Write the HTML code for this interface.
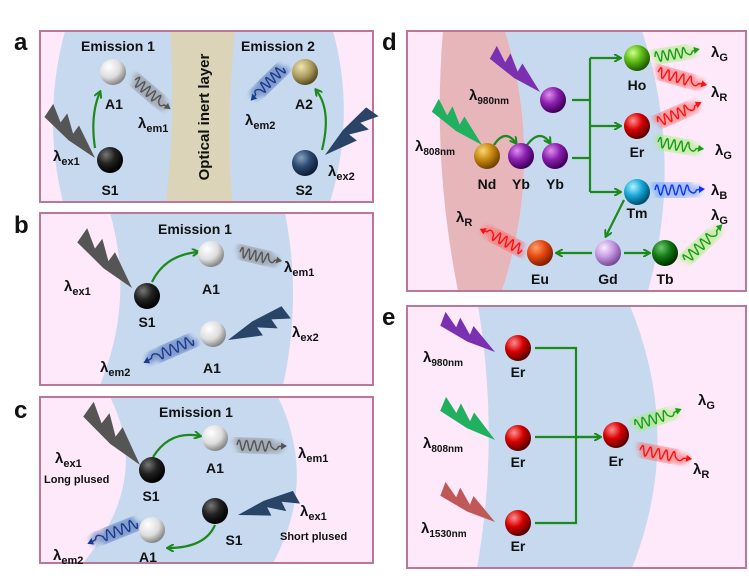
<!DOCTYPE html>
<html><head><meta charset="utf-8"><style>
html,body{margin:0;padding:0;background:#fff;}
svg{display:block;font-family:"Liberation Sans",Arial,sans-serif;font-weight:bold;}
</style></head><body>
<svg id="s" width="749" height="579" viewBox="0 0 749 579" xmlns="http://www.w3.org/2000/svg">
<defs>
<filter id="bl" x="-30%" y="-30%" width="160%" height="160%"><feGaussianBlur stdDeviation="2.5"/></filter>
<marker id="ga" markerWidth="8" markerHeight="8" refX="6" refY="4" orient="auto" markerUnits="userSpaceOnUse"><path d="M0,0 L7,4 L0,8" fill="none" stroke="#1b8a1b" stroke-width="2"/></marker>
<radialGradient id="gW" cx="35%" cy="30%" r="70%"><stop offset="0" stop-color="#fff"/><stop offset=".6" stop-color="#ddd"/><stop offset="1" stop-color="#888"/></radialGradient>
<radialGradient id="gK" cx="35%" cy="30%" r="70%"><stop offset="0" stop-color="#777"/><stop offset=".5" stop-color="#222"/><stop offset="1" stop-color="#000"/></radialGradient>
<radialGradient id="gA" cx="35%" cy="30%" r="70%"><stop offset="0" stop-color="#efe4b0"/><stop offset=".6" stop-color="#a8985a"/><stop offset="1" stop-color="#5a4e20"/></radialGradient>
<radialGradient id="gB" cx="35%" cy="30%" r="70%"><stop offset="0" stop-color="#8aa0c0"/><stop offset=".5" stop-color="#2d4a70"/><stop offset="1" stop-color="#0e1e38"/></radialGradient>
<radialGradient id="gP" cx="35%" cy="30%" r="70%"><stop offset="0" stop-color="#e090f0"/><stop offset=".5" stop-color="#8a20b0"/><stop offset="1" stop-color="#40005a"/></radialGradient>
<radialGradient id="gN" cx="35%" cy="30%" r="70%"><stop offset="0" stop-color="#f8d878"/><stop offset=".5" stop-color="#c88a10"/><stop offset="1" stop-color="#704400"/></radialGradient>
<radialGradient id="gH" cx="35%" cy="30%" r="70%"><stop offset="0" stop-color="#d0ff90"/><stop offset=".5" stop-color="#5cbc14"/><stop offset="1" stop-color="#205c00"/></radialGradient>
<radialGradient id="gR" cx="35%" cy="30%" r="70%"><stop offset="0" stop-color="#ff9090"/><stop offset=".5" stop-color="#d80000"/><stop offset="1" stop-color="#5a0000"/></radialGradient>
<radialGradient id="gT" cx="35%" cy="30%" r="70%"><stop offset="0" stop-color="#b0f4ff"/><stop offset=".5" stop-color="#18a8d8"/><stop offset="1" stop-color="#005070"/></radialGradient>
<radialGradient id="gG" cx="35%" cy="30%" r="70%"><stop offset="0" stop-color="#f8eaff"/><stop offset=".5" stop-color="#c89ce4"/><stop offset="1" stop-color="#7a4a9a"/></radialGradient>
<radialGradient id="gE" cx="35%" cy="30%" r="70%"><stop offset="0" stop-color="#ffa070"/><stop offset=".5" stop-color="#e84810"/><stop offset="1" stop-color="#802000"/></radialGradient>
<radialGradient id="gD" cx="35%" cy="30%" r="70%"><stop offset="0" stop-color="#70c870"/><stop offset=".5" stop-color="#137a13"/><stop offset="1" stop-color="#003000"/></radialGradient>
</defs>

<!-- panel backgrounds -->
<g stroke="none">
<rect x="40" y="31" width="333" height="171" fill="#fde9f9"/>
<path d="M65,31 Q42,116 63,202 L330,202 Q356,116 333,31 Z" fill="#c6d9ef"/>
<path d="M170,31 Q176,116 166,202 L232,202 Q226,116 235,31 Z" fill="#dcd4b8"/>
<rect x="40" y="213" width="333" height="172" fill="#fde9f9"/>
<path d="M110,213 Q135,300 100,385 L283,385 Q302,300 285,213 Z" fill="#c6d9ef"/>
<rect x="40" y="397" width="333" height="166" fill="#fde9f9"/>
<path d="M110,397 Q152,480 83,563 L273,563 Q318,480 278,397 Z" fill="#c6d9ef"/>
<rect x="407" y="31" width="339" height="260" fill="#fde9f9"/>
<path d="M443,31 Q432,160 458,291 L502,291 Q545,160 505,31 Z" fill="#e6b6ba"/>
<path d="M505,31 Q545,160 502,291 L648,291 Q684,160 642,31 Z" fill="#c6d9ef"/>
<rect x="407" y="306" width="339" height="262" fill="#fde9f9"/>
<path d="M478,306 Q500,437 477,568 L632,568 Q684,437 630,306 Z" fill="#c6d9ef"/>
</g>
<g fill="none" stroke="#b87898" stroke-width="2">
<rect x="40" y="31" width="333" height="171"/>
<rect x="40" y="213" width="333" height="172"/>
<rect x="40" y="397" width="333" height="166"/>
<rect x="407" y="31" width="339" height="260"/>
<rect x="407" y="306" width="339" height="262"/>
</g>

<g id="fx"></g>

<!-- green connectors -->
<g fill="none" stroke="#1b8a1b" stroke-width="2.2">
<path d="M95,148 Q90,115 100,92" marker-end="url(#ga)"/>
<path d="M322,150 Q332,110 316,90" marker-end="url(#ga)"/>
<path d="M152,282 Q165,255 198,252" marker-end="url(#ga)"/>
<path d="M153,457 Q170,430 200,436" marker-end="url(#ga)"/>
<path d="M215,525 Q205,548 168,548" marker-end="url(#ga)"/>
<path d="M494,145 Q505,128 516,143" marker-end="url(#ga)"/>
<path d="M527,145 Q540,128 550,143" marker-end="url(#ga)"/>
<path d="M572,100 H590 M572,158 H590 M590,58 V192"/>
<path d="M590,58 H620" marker-end="url(#ga)"/>
<path d="M590,126 H620" marker-end="url(#ga)"/>
<path d="M590,192 H620" marker-end="url(#ga)"/>
<path d="M624,200 L606,236" marker-end="url(#ga)"/>
<path d="M592,253 H557" marker-end="url(#ga)"/>
<path d="M624,253 H649" marker-end="url(#ga)"/>
<path d="M535,348 H576 V523 H535 M535,437 H600" />
<path d="M576,437 H600" marker-end="url(#ga)"/>
</g>

<!-- spheres -->
<g>
<circle cx="113" cy="72" r="13" fill="url(#gW)"/>
<circle cx="110" cy="160" r="13" fill="url(#gK)"/>
<circle cx="305" cy="72" r="13" fill="url(#gA)"/>
<circle cx="305" cy="163" r="13" fill="url(#gB)"/>
<circle cx="211" cy="254" r="13" fill="url(#gW)"/>
<circle cx="147" cy="296" r="13" fill="url(#gK)"/>
<circle cx="213" cy="334" r="13" fill="url(#gW)"/>
<circle cx="215" cy="438" r="13" fill="url(#gW)"/>
<circle cx="152" cy="470" r="13" fill="url(#gK)"/>
<circle cx="215" cy="511" r="13" fill="url(#gK)"/>
<circle cx="152" cy="530" r="13" fill="url(#gW)"/>
<circle cx="553" cy="100" r="13" fill="url(#gP)"/>
<circle cx="487" cy="156" r="13" fill="url(#gN)"/>
<circle cx="521" cy="156" r="13" fill="url(#gP)"/>
<circle cx="555" cy="156" r="13" fill="url(#gP)"/>
<circle cx="637" cy="58" r="13" fill="url(#gH)"/>
<circle cx="637" cy="126" r="13" fill="url(#gR)"/>
<circle cx="637" cy="192" r="13" fill="url(#gT)"/>
<circle cx="608" cy="253" r="13" fill="url(#gG)"/>
<circle cx="540" cy="253" r="13" fill="url(#gE)"/>
<circle cx="665" cy="253" r="13" fill="url(#gD)"/>
<circle cx="518" cy="348" r="13" fill="url(#gR)"/>
<circle cx="518" cy="438" r="13" fill="url(#gR)"/>
<circle cx="518" cy="523" r="13" fill="url(#gR)"/>
<circle cx="616" cy="435" r="13" fill="url(#gR)"/>
</g>

<!-- text -->
<g fill="#111" font-size="14">
<text x="14" y="50" font-size="24">a</text>
<text x="14" y="233" font-size="24">b</text>
<text x="14" y="418" font-size="24">c</text>
<text x="382" y="50" font-size="24">d</text>
<text x="382" y="325" font-size="24">e</text>

<text x="118" y="51" text-anchor="middle">Emission 1</text>
<text x="278" y="51" text-anchor="middle">Emission 2</text>
<text transform="translate(209,117) rotate(-90)" text-anchor="middle" font-size="15">Optical inert layer</text>
<text x="114" y="109" text-anchor="middle">A1</text>
<text x="304" y="109" text-anchor="middle">A2</text>
<text x="110" y="195" text-anchor="middle">S1</text>
<text x="304" y="195" text-anchor="middle">S2</text>
<text x="53" y="161" font-size="15">λ<tspan font-size="11" dy="4">ex1</tspan></text>
<text x="138" y="128" font-size="15">λ<tspan font-size="11" dy="4">em1</tspan></text>
<text x="245" y="125" font-size="15">λ<tspan font-size="11" dy="4">em2</tspan></text>
<text x="328" y="176" font-size="15">λ<tspan font-size="11" dy="4">ex2</tspan></text>

<text x="195" y="234" text-anchor="middle">Emission 1</text>
<text x="211" y="294" text-anchor="middle">A1</text>
<text x="147" y="327" text-anchor="middle">S1</text>
<text x="212" y="373" text-anchor="middle">A1</text>
<text x="64" y="291" font-size="15">λ<tspan font-size="11" dy="4">ex1</tspan></text>
<text x="284" y="272" font-size="15">λ<tspan font-size="11" dy="4">em1</tspan></text>
<text x="292" y="337" font-size="15">λ<tspan font-size="11" dy="4">ex2</tspan></text>
<text x="100" y="372" font-size="15">λ<tspan font-size="11" dy="4">em2</tspan></text>

<text x="196" y="417" text-anchor="middle">Emission 1</text>
<text x="215" y="473" text-anchor="middle">A1</text>
<text x="151" y="501" text-anchor="middle">S1</text>
<text x="234" y="545" text-anchor="middle">S1</text>
<text x="148" y="562" text-anchor="middle">A1</text>
<text x="55" y="463" font-size="15">λ<tspan font-size="11" dy="4">ex1</tspan></text>
<text x="44" y="483" font-size="11">Long plused</text>
<text x="298" y="458" font-size="15">λ<tspan font-size="11" dy="4">em1</tspan></text>
<text x="300" y="516" font-size="15">λ<tspan font-size="11" dy="4">ex1</tspan></text>
<text x="280" y="540" font-size="11">Short plused</text>
<text x="53" y="560" font-size="15">λ<tspan font-size="11" dy="4">em2</tspan></text>

<text x="469" y="100" font-size="15">λ<tspan font-size="10" dy="4">980nm</tspan></text>
<text x="415" y="151" font-size="15">λ<tspan font-size="10" dy="4">808nm</tspan></text>
<text x="487" y="189" text-anchor="middle">Nd</text>
<text x="521" y="189" text-anchor="middle">Yb</text>
<text x="555" y="189" text-anchor="middle">Yb</text>
<text x="637" y="90" text-anchor="middle">Ho</text>
<text x="637" y="157" text-anchor="middle">Er</text>
<text x="637" y="218" text-anchor="middle">Tm</text>
<text x="540" y="284" text-anchor="middle">Eu</text>
<text x="608" y="284" text-anchor="middle">Gd</text>
<text x="665" y="284" text-anchor="middle">Tb</text>
<text x="711" y="57" font-size="15">λ<tspan font-size="11" dy="4">G</tspan></text>
<text x="711" y="97" font-size="15">λ<tspan font-size="11" dy="4">R</tspan></text>
<text x="715" y="155" font-size="15">λ<tspan font-size="11" dy="4">G</tspan></text>
<text x="711" y="195" font-size="15">λ<tspan font-size="11" dy="4">B</tspan></text>
<text x="711" y="220" font-size="15">λ<tspan font-size="11" dy="4">G</tspan></text>
<text x="456" y="222" font-size="15">λ<tspan font-size="11" dy="4">R</tspan></text>

<text x="423" y="362" font-size="15">λ<tspan font-size="10" dy="4">980nm</tspan></text>
<text x="423" y="448" font-size="15">λ<tspan font-size="10" dy="4">808nm</tspan></text>
<text x="421" y="533" font-size="15">λ<tspan font-size="10" dy="4">1530nm</tspan></text>
<text x="518" y="377" text-anchor="middle">Er</text>
<text x="518" y="467" text-anchor="middle">Er</text>
<text x="518" y="551" text-anchor="middle">Er</text>
<text x="616" y="466" text-anchor="middle">Er</text>
<text x="698" y="405" font-size="15">λ<tspan font-size="11" dy="4">G</tspan></text>
<text x="693" y="474" font-size="15">λ<tspan font-size="11" dy="4">R</tspan></text>
</g>

<script>
(function(){
var NS="http://www.w3.org/2000/svg",fx=document.getElementById("fx");
function el(t,a){var e=document.createElementNS(NS,t);for(var k in a)e.setAttribute(k,a[k]);fx.appendChild(e);return e;}
function bolt(x1,y1,x2,y2,c){
 var dx=x2-x1,dy=y2-y1,L=Math.sqrt(dx*dx+dy*dy),a=Math.atan2(dy,dx)*180/Math.PI,s=L/60;
 el("polygon",{points:"-60,-11 -44,-3 -45,-13 -29,-3 -30,-12 0,0 -28,4 -58,3",fill:c,
  transform:"translate("+x2+","+y2+") rotate("+a+") scale("+s+")"});
}
function wave(x1,y1,x2,y2,c,g){
 var dx=x2-x1,dy=y2-y1,L=Math.sqrt(dx*dx+dy*dy),a=Math.atan2(dy,dx)*180/Math.PI;
 var d="M0,0",n=60,w=L*0.68;
 for(var i=1;i<=n;i++){var x=w*i/n;d+=" L"+x.toFixed(1)+","+(-5*Math.sin(i/n*Math.PI*9)).toFixed(1);}
 d+=" Q"+(w+L*0.1)+",6 "+(w+L*0.15)+",0 L"+(L-4)+",-1";
 var tr="translate("+x1+","+y1+") rotate("+a+")";
 el("path",{d:d,fill:"none",stroke:g,"stroke-width":9,opacity:.55,filter:"url(#bl)",transform:tr});
 el("path",{d:d,fill:"none",stroke:c,"stroke-width":1.4,transform:tr});
 el("polygon",{points:(L-6)+",-4 "+L+",-1 "+(L-6)+",3",fill:c,transform:tr});
}
var gy="#555",db="#2a4468";
bolt(45,113,95,158,gy); bolt(370,108,325,155,db);
bolt(78,238,132,288,gy); bolt(285,308,228,340,db);
bolt(84,412,140,465,gy); bolt(296,493,238,515,db);
bolt(490,55,540,92,"#7a30b0"); bolt(432,108,482,145,"#20b060");
bolt(440,322,495,352,"#7a30b0"); bolt(440,407,495,440,"#20b060"); bolt(440,492,495,522,"#c05858");
wave(135,80,170,110,"#555","#888"); wave(283,68,250,100,"#1a3a90","#4a6ab0");
wave(240,252,282,262,"#555","#888"); wave(193,340,143,362,"#1a3a90","#4a6ab0");
wave(237,445,287,447,"#555","#888"); wave(137,523,87,543,"#1a3a90","#4a6ab0");
wave(655,57,700,50,"#1a9a1a","#a0f070"); wave(658,72,707,86,"#ff1010","#ff6060");
wave(658,122,702,103,"#ff1010","#ff6060"); wave(658,142,704,150,"#1a9a1a","#a0f070");
wave(655,190,705,190,"#1030ff","#60a0ff"); wave(685,260,723,225,"#1a9a1a","#a0f070");
wave(522,250,480,228,"#ff1010","#ff6060");
wave(635,425,682,410,"#1a9a1a","#a0f070"); wave(640,450,692,460,"#ff1010","#ff6060");
})();
</script>
</svg>
</body></html>
